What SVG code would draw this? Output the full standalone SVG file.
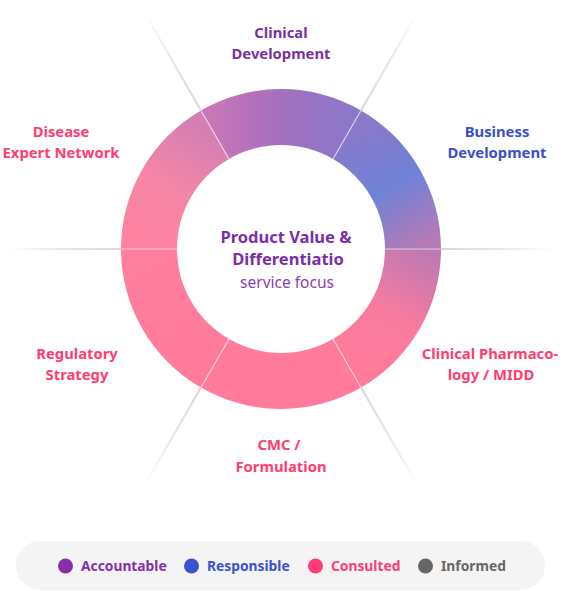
<svg xmlns="http://www.w3.org/2000/svg" width="563" height="591" viewBox="0 0 563 591">
  <style>
    .lbl { font-family: "Noto Sans", "Liberation Sans", sans-serif; font-weight: 700; font-size: 14.8px; text-anchor: middle; }
    .purple { fill: #7b2fa3; }
    .blue { fill: #3b4fc8; }
    .pink { fill: #ff3d6f; }
    .title { font-family: "Noto Sans", "Liberation Sans", sans-serif; font-weight: 700; font-size: 16.5px; text-anchor: middle; fill: #7b2fa6; }
    .sub { font-family: "Noto Sans", "Liberation Sans", sans-serif; font-weight: 400; font-size: 15.5px; text-anchor: middle; fill: #8a3fb2; }
    .leg { font-family: "Noto Sans", "Liberation Sans", sans-serif; font-weight: 700; font-size: 13.8px; }
    .sep-in { stroke: #ffffff; stroke-opacity: 0.6; stroke-width: 1.2; }
    .sep-out { stroke: url(#fade); stroke-width: 2.2; fill: none; }
  </style>
  <defs>
    <linearGradient id="fade" gradientUnits="userSpaceOnUse" x1="160" y1="0" x2="274" y2="0">
      <stop offset="0" stop-color="#000" stop-opacity="0.15"/>
      <stop offset="0.6" stop-color="#000" stop-opacity="0.08"/>
      <stop offset="1" stop-color="#000" stop-opacity="0"/>
    </linearGradient>
    <linearGradient id="g1" gradientUnits="userSpaceOnUse" x1="215" y1="134.7" x2="347" y2="134.7">
      <stop offset="0" stop-color="#c776b7"/>
      <stop offset="0.5" stop-color="#a36fbf"/>
      <stop offset="1" stop-color="#8c77c9"/>
    </linearGradient>
    <linearGradient id="g2" gradientUnits="userSpaceOnUse" x1="347" y1="134.7" x2="413" y2="249">
      <stop offset="0" stop-color="#8a78ca"/>
      <stop offset="0.5" stop-color="#6f82d7"/>
      <stop offset="1" stop-color="#b47ab6"/>
    </linearGradient>
    <linearGradient id="g3" gradientUnits="userSpaceOnUse" x1="413" y1="249" x2="347" y2="363.3">
      <stop offset="0" stop-color="#c07ab2"/>
      <stop offset="0.5" stop-color="#f77b9f"/>
      <stop offset="1" stop-color="#ff7a9b"/>
    </linearGradient>
    <linearGradient id="g4" gradientUnits="userSpaceOnUse" x1="347" y1="363.3" x2="215" y2="363.3">
      <stop offset="0" stop-color="#ff7a9b"/>
      <stop offset="1" stop-color="#ff7a9b"/>
    </linearGradient>
    <linearGradient id="g5" gradientUnits="userSpaceOnUse" x1="215" y1="363.3" x2="149" y2="249">
      <stop offset="0" stop-color="#ff7a9b"/>
      <stop offset="1" stop-color="#ff7fa0"/>
    </linearGradient>
    <linearGradient id="g6" gradientUnits="userSpaceOnUse" x1="149" y1="249" x2="215" y2="134.7">
      <stop offset="0" stop-color="#ff82a2"/>
      <stop offset="0.45" stop-color="#f886a6"/>
      <stop offset="1" stop-color="#d27fb3"/>
    </linearGradient>
  </defs>

  <rect width="563" height="591" fill="#ffffff"/>

  <g id="separators">
    <g transform="translate(281 249) rotate(-120)"><line class="sep-out" x1="160" y1="0" x2="274" y2="0"/></g>
    <g transform="translate(281 249) rotate(-60)"><line class="sep-out" x1="160" y1="0" x2="274" y2="0"/></g>
    <g transform="translate(281 249) rotate(0)"><line class="sep-out" x1="160" y1="0" x2="272" y2="0"/></g>
    <g transform="translate(281 249) rotate(60)"><line class="sep-out" x1="160" y1="0" x2="274" y2="0"/></g>
    <g transform="translate(281 249) rotate(120)"><line class="sep-out" x1="160" y1="0" x2="274" y2="0"/></g>
    <g transform="translate(281 249) rotate(180)"><line class="sep-out" x1="160" y1="0" x2="272" y2="0"/></g>
  </g>

  <g id="node-clinical-development">
    <path d="M201 110.44 A160 160 0 0 1 361 110.44 L333 158.93 A104 104 0 0 0 229 158.93 Z" fill="url(#g1)"/>
    <text class="lbl purple" x="281" y="38">Clinical</text>
    <text class="lbl purple" x="281" y="59">Development</text>
  </g>
  <g id="node-business-development">
    <path d="M361 110.44 A160 160 0 0 1 441 249 L385 249 A104 104 0 0 0 333 158.93 Z" fill="url(#g2)"/>
    <text class="lbl blue" x="497" y="137">Business</text>
    <text class="lbl blue" x="497" y="158">Development</text>
  </g>
  <g id="node-clinical-pharmacology">
    <path d="M441 249 A160 160 0 0 1 361 387.56 L333 339.07 A104 104 0 0 0 385 249 Z" fill="url(#g3)"/>
    <text class="lbl pink" x="490" y="359">Clinical Pharmaco-</text>
    <text class="lbl pink" x="491" y="380">logy / MIDD</text>
  </g>
  <g id="node-cmc-formulation">
    <path d="M361 387.56 A160 160 0 0 1 201 387.56 L229 339.07 A104 104 0 0 0 333 339.07 Z" fill="url(#g4)"/>
    <text class="lbl pink" x="279" y="450">CMC /</text>
    <text class="lbl pink" x="281" y="472">Formulation</text>
  </g>
  <g id="node-regulatory-strategy">
    <path d="M201 387.56 A160 160 0 0 1 121 249 L177 249 A104 104 0 0 0 229 339.07 Z" fill="url(#g5)"/>
    <text class="lbl pink" x="77" y="359">Regulatory</text>
    <text class="lbl pink" x="77" y="380">Strategy</text>
  </g>
  <g id="node-disease-expert-network">
    <path d="M121 249 A160 160 0 0 1 201 110.44 L229 158.93 A104 104 0 0 0 177 249 Z" fill="url(#g6)"/>
    <text class="lbl pink" x="61" y="137">Disease</text>
    <text class="lbl pink" x="61" y="158">Expert Network</text>
  </g>

  <g id="ring-dividers">
    <line class="sep-in" x1="201" y1="110.44" x2="229" y2="158.93"/>
    <line class="sep-in" x1="361" y1="110.44" x2="333" y2="158.93"/>
    <line class="sep-in" x1="441" y1="249" x2="385" y2="249"/>
    <line class="sep-in" x1="361" y1="387.56" x2="333" y2="339.07"/>
    <line class="sep-in" x1="201" y1="387.56" x2="229" y2="339.07"/>
    <line class="sep-in" x1="121" y1="249" x2="177" y2="249"/>
  </g>

  <g id="node-center">
    <text class="title" x="286" y="243">Product Value &amp;</text>
    <text class="title" x="288" y="265">Differentiatio</text>
    <text class="sub" x="287" y="288">service focus</text>
  </g>

  <g id="legend">
    <rect x="16" y="541" width="529" height="49" rx="24.5" fill="#f4f4f4"/>
    <circle cx="65.5" cy="566" r="7.5" fill="#862fa8"/>
    <text class="leg" x="81" y="571" fill="#862fa8">Accountable</text>
    <circle cx="191.5" cy="566" r="7.5" fill="#3b52cc"/>
    <text class="leg" x="207" y="571" fill="#3b52cc">Responsible</text>
    <circle cx="315.5" cy="566" r="7.5" fill="#ff3d74"/>
    <text class="leg" x="331" y="571" fill="#ff3d74">Consulted</text>
    <circle cx="425.5" cy="566" r="7.5" fill="#666666"/>
    <text class="leg" x="441" y="571" fill="#666666">Informed</text>
  </g>
</svg>
